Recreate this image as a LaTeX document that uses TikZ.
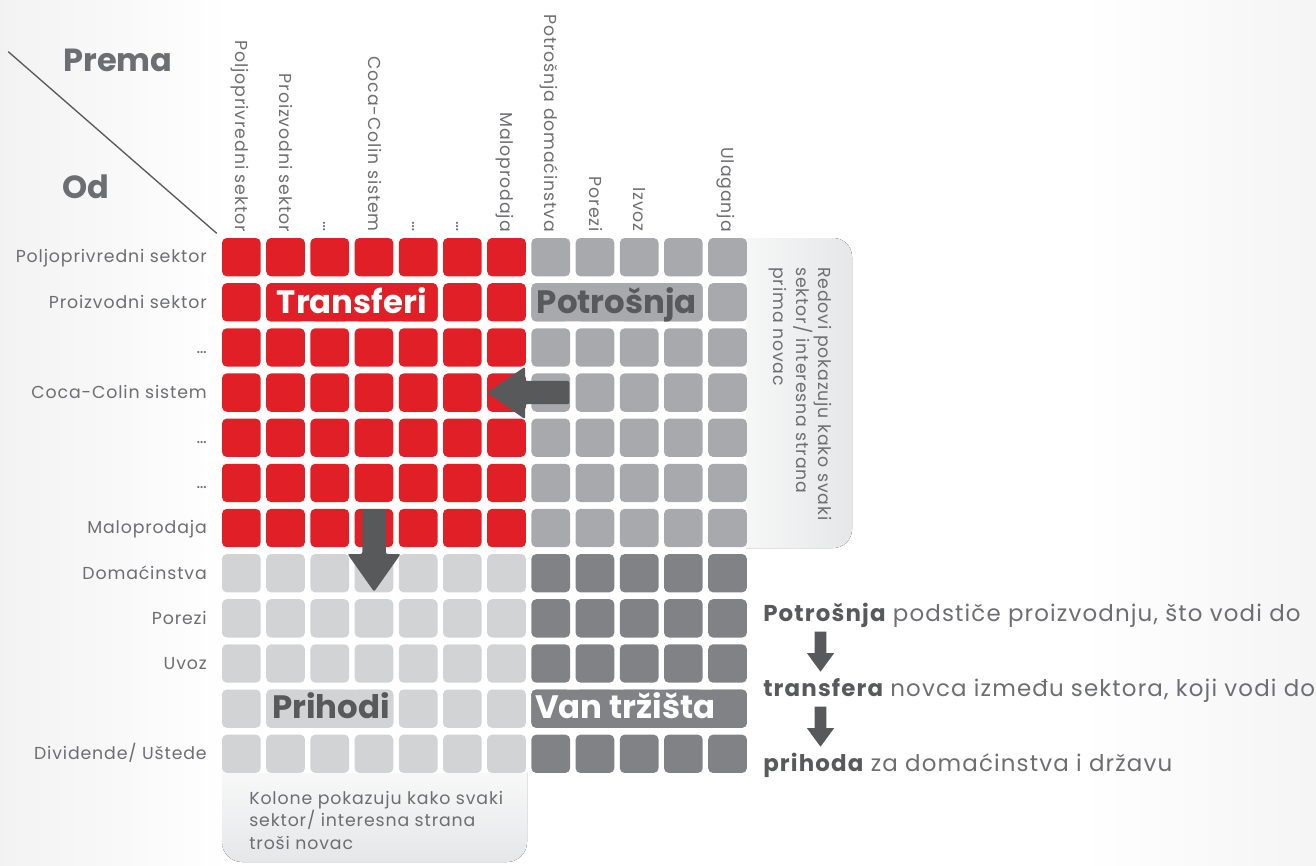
\documentclass[tikz,border=0pt]{standalone}
\usepackage{fontspec}
\setmainfont{Poppins}
\newfontfamily\gf[LetterSpace=5]{Poppins}
\definecolor{cred}{HTML}{E01F27}
\definecolor{cmid}{HTML}{A7A9AC}
\definecolor{clight}{HTML}{D1D3D4}
\definecolor{cdark}{HTML}{808285}
\definecolor{carrow}{HTML}{58595B}
\definecolor{ctext}{HTML}{6D6E71}
\definecolor{cbox}{HTML}{E6E7E8}
\newcommand\gx[1]{222+(#1-1)*44.2}
\newcommand\gy[1]{238+(#1-1)*45.15}
\newcommand\blk[5]{\fill[#1,rounded corners=3.6pt] ({\gx{#2}},{\gy{#4}}) rectangle ({\gx{#3}+38.7},{\gy{#5}+38.3});}
\begin{document}
\begin{tikzpicture}[x=0.75pt,y=-0.75pt,
  rowlab/.style={anchor=base east,inner sep=0pt,text=ctext,font=\gf\fontsize{13}{15}\selectfont},
  collab/.style={anchor=base east,inner sep=0pt,rotate=-90,text=ctext,font=\gf\fontsize{13}{15}\selectfont},
  biglab/.style={anchor=base,inner sep=0pt,font=\fontsize{24.3}{28}\selectfont\bfseries},
  flowtxt/.style={anchor=base west,inner sep=0pt,text=ctext,font=\gf\fontsize{17.2}{20}\selectfont},
  boxtxt/.style={inner sep=0pt,text=ctext,align=left,font=\gf\fontsize{13}{16.8}\selectfont},
  head/.style={anchor=base west,inner sep=0pt,text=ctext,font=\fontsize{24}{28}\selectfont\bfseries}]
\useasboundingbox (0,0) rectangle (1316,865);
% faint background
\fill[left color=black!5,right color=white] (0,0) rectangle (230,865);
\fill[left color=white,right color=black!4] (1080,0) rectangle (1316,865);
% side boxes
\begin{scope}
\clip (746,0) rectangle (1000,865);
\fill[left color=white,right color=cbox,rounded corners=14pt] (690,238) rectangle (852,548);
\end{scope}
\begin{scope}
\clip (0,773) rectangle (800,865);
\fill[top color=white,bottom color=cbox,rounded corners=15pt] (222,735) rectangle (527,862);
\end{scope}
% grid cells
\foreach \c in {1,...,7}{\foreach \r in {1,...,7}{\blk{cred}{\c}{\c}{\r}{\r}}}
\foreach \c in {8,...,12}{\foreach \r in {1,...,7}{\blk{cmid}{\c}{\c}{\r}{\r}}}
\foreach \c in {1,...,7}{\foreach \r in {8,...,12}{\blk{clight}{\c}{\c}{\r}{\r}}}
\foreach \c in {8,...,12}{\foreach \r in {8,...,12}{\blk{cdark}{\c}{\c}{\r}{\r}}}
% merged blocks
\blk{cred}{2}{5}{2}{2}
\blk{cmid}{8}{11}{2}{2}
\blk{clight}{2}{4}{11}{11}
\blk{cdark}{8}{12}{11}{11}
\node[biglab,text=white] (transferi) at (351.9,313.3) {Transferi};
\node[biglab,text=carrow] (potrosnja) at (616.9,313.3) {Potrošnja};
\node[biglab,text=carrow] (prihodi) at (331,718.3) {Prihodi};
\node[biglab,text=white,anchor=base west] (van) at (535,718.3) {Van tržišta};
% big arrows
\fill[carrow,rounded corners=1.5pt] (487.3,392.6) -- (525,366.7) -- (525,380.9) -- (569.3,380.9) -- (569.3,404.2) -- (525,404.2) -- (525,419.3) -- cycle;
\fill[carrow,rounded corners=1.5pt] (374.1,591.7) -- (347.5,554) -- (362.4,554) -- (362.4,509.3) -- (385.8,509.3) -- (385.8,554) -- (400.7,554) -- cycle;
% header
\draw[carrow,line width=1pt] (8.3,51.7) -- (216.7,233.3);
\node[head] (prema) at (63.3,71.7) {Prema};
\node[head] (od) at (62,198.3) {Od};
% row labels
\foreach \t [count=\r] in {Poljoprivredni sektor,Proizvodni sektor,…,Coca-Colin sistem,…,…,Maloprodaja,Domaćinstva,Porezi,Uvoz,{},Dividende/ Uštede}{
  \node[rowlab] (row\r) at (207,{\gy{\r}+19.15+5.8}) {\t};}
% column labels
\foreach \t [count=\c] in {Poljoprivredni sektor,Proizvodni sektor,…,Coca-Colin sistem,…,…,Maloprodaja,Potrošnja domaćinstva,Porezi,Izvoz,{},Ulaganja}{
  \node[collab] (col\c) at ({\gx{\c}+19.35-5.8},232) {\t};}
% box texts
\node[boxtxt,rotate=-90,anchor=north west] (redovi) at (832,267) {Redovi pokazuju kako svaki\\sektor/ interesna strana\\prima novac};
\node[boxtxt,anchor=north west] (kolone) at (249,791) {Kolone pokazuju kako svaki\\sektor/ interesna strana\\troši novac};
% flow text
\node[flowtxt] (f1) at (763,621.7) {\textcolor{carrow}{\bfseries Potrošnja} podstiče proizvodnju, što vodi do};
\node[flowtxt] (f2) at (763,696.7) {\textcolor{carrow}{\bfseries transfera} novca između sektora, koji vodi do};
\node[flowtxt] (f3) at (763,771.7) {\textcolor{carrow}{\bfseries prihoda} za domaćinstva i državu};
\foreach \dy in {0,75}{
  \fill[carrow] (820.5,{671.7+\dy}) -- (806.8,{653+\dy}) -- (814.7,{653+\dy}) -- (814.7,{631.7+\dy}) -- (826.3,{631.7+\dy}) -- (826.3,{653+\dy}) -- (834.2,{653+\dy}) -- cycle;}
\end{tikzpicture}
\end{document}
